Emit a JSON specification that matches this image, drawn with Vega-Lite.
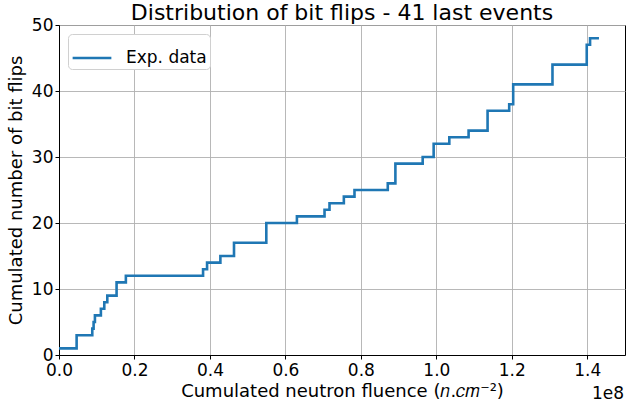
{
  "$schema": "https://vega.github.io/schema/vega-lite/v6.json",
  "width": 566,
  "height": 330,
  "autosize": "none",
  "padding": {"left": 59, "top": 25, "right": 1, "bottom": 53},
  "background": "white",
  "config": {
    "font": "DejaVu Sans",
    "view": {"stroke": "black", "strokeWidth": 1},
    "axis": {
      "labelFont": "DejaVu Sans",
      "titleFont": "DejaVu Sans",
      "labelFontSize": 17,
      "titleFontSize": 18,
      "labelColor": "black",
      "titleColor": "black",
      "titleFontWeight": "normal",
      "domainColor": "black",
      "tickColor": "black",
      "tickSize": 4,
      "gridColor": "#b0b0b0",
      "gridWidth": 0.9,
      "gridOpacity": 1
    }
  },
  "title": {
    "text": "Distribution of bit flips - 41 last events",
    "fontSize": 22,
    "fontWeight": "normal",
    "font": "DejaVu Sans",
    "color": "black",
    "offset": -9
  },
  "data": {
    "values": [
      {"fluence": 0, "flips": 1},
      {"fluence": 4670000, "flips": 3},
      {"fluence": 8820000, "flips": 4},
      {"fluence": 9170000, "flips": 5},
      {"fluence": 9520000, "flips": 6},
      {"fluence": 11100000, "flips": 7},
      {"fluence": 12000000, "flips": 8},
      {"fluence": 12800000, "flips": 9},
      {"fluence": 15260000, "flips": 11},
      {"fluence": 17720000, "flips": 12},
      {"fluence": 38180000, "flips": 13},
      {"fluence": 39240000, "flips": 14},
      {"fluence": 42770000, "flips": 15},
      {"fluence": 46380000, "flips": 17},
      {"fluence": 54940000, "flips": 20},
      {"fluence": 63050000, "flips": 21},
      {"fluence": 70370000, "flips": 22},
      {"fluence": 71690000, "flips": 23},
      {"fluence": 75490000, "flips": 24},
      {"fluence": 78310000, "flips": 25},
      {"fluence": 87130000, "flips": 26},
      {"fluence": 89150000, "flips": 29},
      {"fluence": 96380000, "flips": 30},
      {"fluence": 99290000, "flips": 32},
      {"fluence": 103440000, "flips": 33},
      {"fluence": 108550000, "flips": 34},
      {"fluence": 113580000, "flips": 37},
      {"fluence": 119310000, "flips": 38},
      {"fluence": 120370000, "flips": 41},
      {"fluence": 130780000, "flips": 44},
      {"fluence": 139860000, "flips": 47},
      {"fluence": 140740000, "flips": 48},
      {"fluence": 143100000, "flips": 48}
    ]
  },
  "layer": [
    {
      "mark": {"type": "line", "interpolate": "step-after", "strokeWidth": 2.6, "strokeJoin": "miter", "clip": true},
      "encoding": {
        "x": {
          "field": "fluence",
          "type": "quantitative",
          "scale": {"domain": [0, 150000000], "nice": false, "zero": false},
          "axis": {
            "values": [0, 20000000, 40000000, 60000000, 80000000, 100000000, 120000000, 140000000],
            "labelExpr": "format(datum.value / 1e8, '.1f')",
            "labelFlush": false,
            "title": "Cumulated neutron fluence (𝑛.𝑐𝑚⁻²)",
            "titlePadding": 4,
            "labelPadding": 3
          }
        },
        "y": {
          "field": "flips",
          "type": "quantitative",
          "scale": {"domain": [0, 50], "nice": false},
          "axis": {
            "values": [0, 10, 20, 30, 40, 50],
            "title": "Cumulated number of bit flips",
            "titlePadding": 6,
            "labelPadding": 2
          }
        },
        "color": {
          "datum": "Exp. data",
          "type": "nominal",
          "scale": {"range": ["#1f77b4"]},
          "legend": {
            "title": null,
            "orient": "none",
            "legendX": 9,
            "legendY": 9,
            "symbolType": "stroke",
            "symbolSize": 1500,
            "symbolStrokeWidth": 2.6,
            "labelFontSize": 17,
            "labelFont": "DejaVu Sans",
            "labelColor": "black",
            "labelOffset": 13,
            "padding": 3,
            "fillColor": "white",
            "strokeColor": "#d0d0d0",
            "cornerRadius": 4
          }
        }
      }
    },
    {
      "data": {"values": [{"label": "1e8"}]},
      "mark": {"type": "text", "fontSize": 17, "font": "DejaVu Sans", "align": "right", "baseline": "top", "dy": 31, "dx": -1, "color": "black"},
      "encoding": {
        "text": {"field": "label"},
        "x": {"datum": 150000000, "type": "quantitative"},
        "y": {"datum": 0, "type": "quantitative"}
      }
    }
  ]
}
